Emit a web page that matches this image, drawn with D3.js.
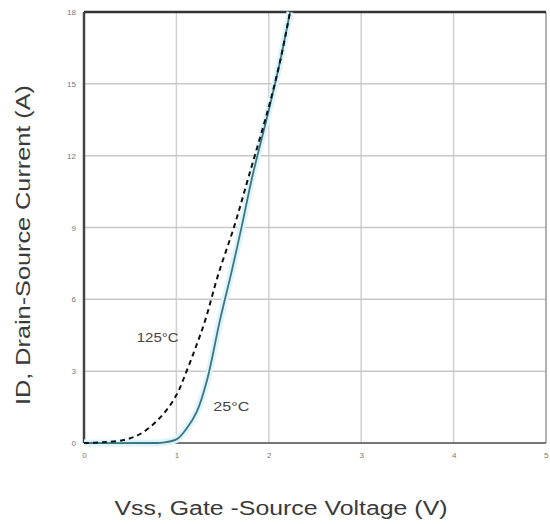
<!DOCTYPE html>
<html>
<style>
  body { margin: 0; background: #fff; }
  text { font-family: "Liberation Sans", Arial, sans-serif; }
</style>
<body>
<div id="chart"></div>
<script src="https://d3js.org/d3.v7.min.js"></script>
<script>
// tick values
var xTicks = [0, 1, 2, 3, 4, 5];
var yTicks = [0, 3, 6, 9, 12, 15, 18];

// 25°C curve (Vgs, Id)
var vgs25 = [0, 0.6, 0.85, 1.0, 1.1, 1.22, 1.33, 1.47, 1.6, 1.71, 1.82, 2.0, 2.12, 2.23];
var id25  = [0, 0, 0.02, 0.15, 0.55, 1.3, 2.6, 5.1, 7.2, 9.1, 11.1, 13.9, 15.9, 18];

// 125°C curve (Vgs, Id)
var vgs125 = [0, 0.2, 0.46, 0.64, 0.85, 1.0, 1.09, 1.2, 1.31, 1.45, 1.63, 1.78, 1.99, 2.12, 2.23];
var id125  = [0, 0.03, 0.15, 0.45, 1.17, 2.0, 2.8, 3.9, 5.1, 7.0, 9.1, 11.1, 13.9, 15.9, 18];

var W = 550, H = 524;
var margin = {top: 12, right: 4, bottom: 81, left: 84},
    width = W - margin.left - margin.right,
    height = H - margin.top - margin.bottom;

var svg = d3.select("#chart").append("svg")
    .attr("width", W)
    .attr("height", H);

var g = svg.append("g")
    .attr("transform", "translate(" + margin.left + "," + margin.top + ")");

var x = d3.scaleLinear().domain([0, 5]).range([0, width]);
var y = d3.scaleLinear().domain([0, 18]).range([height, 0]);

// grid
g.append("g").selectAll("line")
  .data(xTicks.slice(1, -1))
  .enter().append("line")
    .attr("x1", d => x(d)).attr("x2", d => x(d))
    .attr("y1", 0).attr("y2", height)
    .attr("stroke", "#d0d0d0").attr("stroke-width", 1.5);

g.append("g").selectAll("line")
  .data(yTicks.slice(1, -1))
  .enter().append("line")
    .attr("x1", 0).attr("x2", width)
    .attr("y1", d => y(d)).attr("y2", d => y(d))
    .attr("stroke", "#c8c8c8").attr("stroke-width", 1.5);

// frame
g.append("line").attr("x1", width).attr("x2", width).attr("y1", 0).attr("y2", height)
  .attr("stroke", "#999").attr("stroke-width", 1.5);
g.append("line").attr("x1", 0).attr("x2", width).attr("y1", height).attr("y2", height)
  .attr("stroke", "#777").attr("stroke-width", 2);
g.append("line").attr("x1", 0).attr("x2", width).attr("y1", 0).attr("y2", 0)
  .attr("stroke", "#333").attr("stroke-width", 2.5);
g.append("line").attr("x1", 0).attr("x2", 0).attr("y1", 0).attr("y2", height)
  .attr("stroke", "#444").attr("stroke-width", 2.5);

// tick labels
var xAxis = g.append("g")
    .attr("transform", "translate(0," + height + ")")
    .call(d3.axisBottom(x).tickValues(xTicks).tickFormat(d3.format("d")).tickSize(0).tickPadding(9));
var yAxis = g.append("g")
    .call(d3.axisLeft(y).tickValues(yTicks).tickFormat(d3.format("d")).tickSize(0).tickPadding(8));
[xAxis, yAxis].forEach(function(a) {
  a.select(".domain").remove();
  a.selectAll("text")
    .attr("fill", "#777")
    .style("font-size", "8px");
});
xAxis.selectAll("text").filter(d => d === 5).attr("text-anchor", "end").attr("dx", "2");

// curves
var line = d3.line()
    .x(d => x(d[0]))
    .y(d => y(d[1]))
    .curve(d3.curveCatmullRom.alpha(0.5));

var c25 = vgs25.map((v, i) => [v, id25[i]]);
var c125 = vgs125.map((v, i) => [v, id125[i]]);

g.append("path").datum(c25)
  .attr("d", line)
  .attr("fill", "none")
  .attr("stroke", "#ddf5fa")
  .attr("stroke-width", 7);
g.append("path").datum(c25)
  .attr("d", line)
  .attr("fill", "none")
  .attr("stroke", "#3e7482")
  .attr("stroke-width", 1.8);
g.append("path").datum(c125)
  .attr("d", line)
  .attr("fill", "none")
  .attr("stroke", "#111")
  .attr("stroke-width", 2)
  .attr("stroke-dasharray", "5,4");

// curve labels
g.append("text")
  .attr("x", x(0.57)).attr("y", y(4.2))
  .attr("fill", "#444").style("font-size", "12px")
  .attr("textLength", 42).attr("lengthAdjust", "spacingAndGlyphs")
  .text("125°C");
g.append("text")
  .attr("x", x(1.4)).attr("y", y(1.35))
  .attr("fill", "#444").style("font-size", "12px")
  .attr("textLength", 36).attr("lengthAdjust", "spacingAndGlyphs")
  .text("25°C");

// axis titles
svg.append("text")
  .attr("transform", "translate(30,245) rotate(-90)")
  .attr("text-anchor", "middle")
  .attr("fill", "#3a3a3a")
  .style("font-size", "20px")
  .attr("textLength", 320)
  .attr("lengthAdjust", "spacingAndGlyphs")
  .text("ID, Drain-Source Current (A)");

svg.append("text")
  .attr("x", 281).attr("y", 515)
  .attr("text-anchor", "middle")
  .attr("fill", "#3a3a3a")
  .style("font-size", "20px")
  .attr("textLength", 333)
  .attr("lengthAdjust", "spacingAndGlyphs")
  .text("Vss, Gate -Source Voltage (V)");
</script>
</body>
</html>
